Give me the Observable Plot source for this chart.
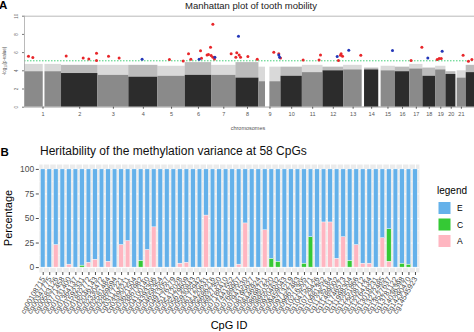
<!DOCTYPE html>
<html><head><meta charset="utf-8">
<script src="https://cdn.jsdelivr.net/npm/d3@7"></script>
<script src="https://cdn.jsdelivr.net/npm/@observablehq/plot@0.6"></script>
<style>
body{margin:0;background:#fff;font-family:"Liberation Sans",Arial,sans-serif;}
#wrap{position:relative;width:474px;height:332px;overflow:hidden;background:#fff;}
#wrap svg{position:absolute;left:0;}
</style></head><body><div id="wrap"></div>
<script>
// ---------- Panel A : Manhattan plot ----------
const chrNames = ["1","2","3","4","5","6","7","8","9","10","11","12","13","14","15","16","17","18","19","20","21","22"];
const chrSpan = [237,233,198,186,175,169,156,147,141,137,132,132,122,115,94,92,85,81,66,68,62,53];
const chrBodyTop = [3.9,3.7,3.5,3.3,3.4,3.5,3.5,3.2,2.8,3.4,3.8,4.0,4.1,4.1,4.0,3.9,4.2,3.4,4.1,3.6,3.2,3.8];
const chrScatterTop = [4.7,4.6,4.6,4.6,4.5,4.9,4.6,4.9,4.4,4.4,4.6,4.4,4.6,4.3,4.5,4.4,4.7,4.3,4.5,3.9,4.0,4.6];
const gapStart = [120,1543,2162,2268,2762];
const gapEnd = [131,1571,2177,2283,2770];
const redPos = [25.6,53.4,266.8,375.6,411.9,461,461,537.8,606,928,1016,1050,1065,1127,1133,1169,1178,1191,1195,1206,1206,1216,1323,1353,1359,1374,1383,1430,1490,1596,1628,1639,1784,1886,1895,2010,2023,2027,2036,2153,2475,2544,2642,2655,2668,2808,2842,2864];
const redLogP = [5.6,5.46,5.64,5.42,5.31,5.93,5.13,5.6,5.42,5.24,5.09,5.86,5.27,6.19,5.38,5.75,5.79,6.59,5.68,9.12,5.49,5.31,5.86,5.49,5.97,5.75,5.49,5.57,5.27,6.04,5.86,5.42,5.2,5.2,5.75,5.13,5.7,5.86,5.6,5.71,5.13,6.59,5.24,5.35,5.35,5.71,5.05,5.24];
const bluePos = [753,1118,1219,1370,1628,1633,2002,2076,2356,2582,2674];
const blueLogP = [5.27,5.27,5.49,7.8,5.75,5.49,5.57,6.26,6.23,5.42,6.15];
const threshold = 5.1;
const yTicksA = [0,2,4,6,8,10];

// ---------- Panel B : stacked bars ----------
const cpgIds = ["cg00108715","cg00347775","cg00583126","cg00771458","cg01031400","cg01364137","cg01592331","cg01802772","cg02046143","cg02330472","cg02581484","cg02869694","cg03117221","cg03390211","cg03621504","cg03867982","cg04100140","cg04393306","cg04658354","cg04913057","cg05176279","cg05412028","cg05679609","cg05930843","cg06172942","cg06420631","cg06686216","cg06927350","cg07188410","cg07441552","cg07689907","cg07941530","cg08195627","cg08446924","cg08698721","cg08950320","cg09204632","cg09459043","cg09713219","cg09967483","cg10216305","cg10475271","cg10729426","cg10981352","cg11235184","cg11489002","cg11746573","cg11998304","cg12251866","cg12508712","cg12764134","cg13018231","cg13272485","cg13527637","cg13781122","cg14036398","cg14290470","cg14545923"];
const pctA = [0,0,23,0,3,0,0,5,8,0,6,0,23,27,0,0,18,41,0,0,0,4,5,0,0,53,0,0,0,0,3,45,0,0,38,0,0,0,0,0,0,0,0,46,46,9,31,0,23,4,4,0,30,6,0,0,0,0];
const pctC = [0,0,0,0,0,0,2,0,0,0,0,0,0,0,0,7,0,0,0,0,0,0,0,0,0,0,0,0,0,0,0,0,0,0,0,9,6,0,0,0,4,31,0,0,0,0,0,7,0,0,0,0,0,33,0,4,3,0];
const compNames = ["E","C","A"];
const compColors = ["#64B1EA","#35C935","#FFB6C1"];
const yTicksB = [0,25,50,75,100];
const yMinorB = [12.5,37.5,62.5,87.5];

// ---------- build A ----------
let cum = 0;
const chrRows = chrNames.map((c, i) => {
  const r = {chr: c, start: cum, end: cum + chrSpan[i], center: cum + chrSpan[i] / 2,
    body: chrBodyTop[i], scatter: chrScatterTop[i], color: i % 2 === 0 ? "#8A8A8A" : "#2C2C2C"};
  cum += chrSpan[i];
  return r;
});
const total = cum;
const gapRows = gapStart.map((s, i) => ({s, e: gapEnd[i]}));
const sig = [
  ...redPos.map((p, i) => ({pos: p, logp: redLogP[i], color: "#E8262A"})),
  ...bluePos.map((p, i) => ({pos: p, logp: blueLogP[i], color: "#2336B8"}))
];
const labelByCenter = new Map(chrRows.map(d => [d.center, d.chr]));
const shownCenters = chrRows.slice(0, 21).map(d => d.center);

const plotA = Plot.plot({
  width: 474, height: 135,
  marginTop: 15.7, marginBottom: 28.3, marginLeft: 24, marginRight: 0,
  style: {fontFamily: "Liberation Sans, Arial, sans-serif", background: "transparent"},
  x: {domain: [0, total], axis: null},
  y: {domain: [0, 10], axis: null},
  color: {type: "identity"},
  marks: [
    Plot.rect(chrRows, {x1: "start", x2: "end", y1: "body", y2: "scatter", fill: "color", fillOpacity: 0.32}),
    Plot.rect(chrRows, {x1: "start", x2: "end", y1: 0, y2: "body", fill: "color"}),
    Plot.rect(gapRows, {x1: "s", x2: "e", y1: 0, y2: 4.9, fill: "white"}),
    Plot.ruleY([threshold], {stroke: "#2FCB6A", strokeWidth: 0.9, strokeDasharray: "1.5,1.5"}),
    Plot.dot(sig, {x: "pos", y: "logp", r: 1.5, fill: "color", stroke: null}),
    Plot.ruleY([10], {stroke: "#A8A8A8", strokeWidth: 0.8}),
    Plot.ruleY([0], {stroke: "#A8A8A8", strokeWidth: 0.8}),
    Plot.ruleX([0], {stroke: "#A8A8A8", strokeWidth: 0.8}),
    Plot.axisX(shownCenters, {tickSize: 2, tickPadding: 3, fontSize: 5.5, color: "#555", tickFormat: d => labelByCenter.get(d), label: null}),
    Plot.axisY(yTicksA, {tickSize: 2, tickFormat: () => "", color: "#777", label: null}),
    Plot.text(yTicksA, {x: 0, y: d => d, text: d => String(d), rotate: -90, dx: -8, fontSize: 4.5, fill: "#666", textAnchor: "middle"})
  ]
});
plotA.style.top = "0px";

// ---------- build B ----------
const rowsB = [];
cpgIds.forEach((id, i) => {
  const a = pctA[i], c = pctC[i], e = 100 - a - c;
  if (a > 0) rowsB.push({id, comp: "A", value: a});
  if (c > 0) rowsB.push({id, comp: "C", value: c});
  rowsB.push({id, comp: "E", value: e});
});

const plotB = Plot.plot({
  width: 474, height: 192,
  marginTop: 24, marginBottom: 60, marginLeft: 38.8, marginRight: 55.1,
  style: {fontFamily: "Liberation Sans, Arial, sans-serif", background: "transparent"},
  x: {domain: cpgIds, paddingInner: 0.3, paddingOuter: 0.25, axis: null},
  y: {domain: [-5, 105], axis: null},
  color: {domain: compNames, range: compColors},
  marks: [
    Plot.frame({fill: "#EBEBEB", stroke: null}),
    Plot.ruleY(yMinorB, {stroke: "white", strokeWidth: 0.5}),
    Plot.ruleY(yTicksB, {stroke: "white", strokeWidth: 1}),
    Plot.ruleX(cpgIds, {stroke: "white", strokeWidth: 1}),
    Plot.barY(rowsB, {x: "id", y: "value", fill: "comp", order: ["A", "C", "E"], stroke: "white", strokeWidth: 0.4}),
    Plot.axisY(yTicksB, {tickSize: 3, tickPadding: 2, fontSize: 8.5, color: "#4D4D4D", label: null}),
    Plot.axisX({tickSize: 3, tickPadding: 2, tickRotate: -60, fontSize: 7.5, color: "#4D4D4D", label: null})
  ]
});
plotB.style.top = "140px";

const wrap = document.getElementById("wrap");
wrap.appendChild(plotA);
wrap.appendChild(plotB);

// ---------- titles, axis titles, legend ----------
const ov = d3.select(wrap).append("svg")
  .attr("width", 474).attr("height", 332)
  .style("top", "0px")
  .style("font-family", "Liberation Sans, Arial, sans-serif");
ov.append("text").attr("x", -1).attr("y", 8.5).attr("font-size", 11.5).attr("font-weight", "bold").text("A");
ov.append("text").attr("x", 251).attr("y", 8.5).attr("font-size", 9.5).attr("text-anchor", "middle").attr("fill", "#222").text("Manhattan plot of tooth mobility");
ov.append("text").attr("x", 248).attr("y", 129.5).attr("font-size", 5.5).attr("text-anchor", "middle").attr("fill", "#555").text("chromosomes");
ov.append("text").attr("transform", "translate(6,61) rotate(-90)").attr("font-size", 4.5).attr("text-anchor", "middle").attr("fill", "#555").text("-log\u2081\u2080(p-value)");

ov.append("text").attr("x", 0.5).attr("y", 155.5).attr("font-size", 11.5).attr("font-weight", "bold").text("B");
ov.append("text").attr("x", 40).attr("y", 155).attr("font-size", 12).attr("fill", "#111").text("Heritability of the methylation variance at 58 CpGs");
ov.append("text").attr("transform", "translate(11.5,218) rotate(-90)").attr("font-size", 11).attr("text-anchor", "middle").text("Percentage");
ov.append("text").attr("x", 229).attr("y", 328.5).attr("font-size", 11).attr("text-anchor", "middle").text("CpG ID");

ov.append("text").attr("x", 437).attr("y", 193.5).attr("font-size", 10).text("legend");
compNames.forEach((n, i) => {
  const y0 = 202 + i * 16.5;
  ov.append("rect").attr("x", 438.5).attr("y", y0).attr("width", 12).attr("height", 12).attr("fill", compColors[i]);
  ov.append("text").attr("x", 457).attr("y", y0 + 9).attr("font-size", 8.5).text(n);
});
</script></body></html>
